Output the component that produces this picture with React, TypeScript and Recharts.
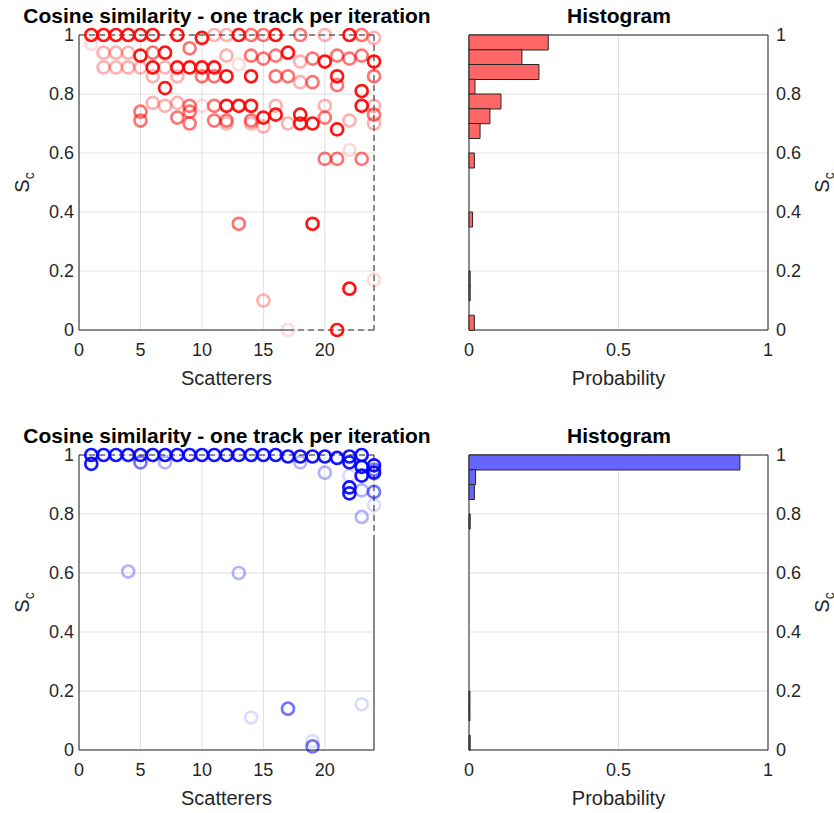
import {
  Bar,
  BarChart,
  CartesianGrid,
  Label,
  ReferenceLine,
  Scatter,
  ScatterChart,
  XAxis,
  YAxis,
} from "recharts"

type Pt = [number, number]

const FONT = "'Liberation Sans', Arial, Helvetica, sans-serif"
const AXIS = "#262626"
const GRID = "#dfdfdf"

const scattererTicks = [0, 5, 10, 15, 20]
const scTicks = [0, 0.2, 0.4, 0.6, 0.8, 1]
const probabilityTicks = [0, 0.5, 1]

// histogram bins of width 0.05, top bin first
const binCentres = [
  0.975, 0.925, 0.875, 0.825, 0.775, 0.725, 0.675, 0.625, 0.575, 0.525,
  0.475, 0.425, 0.375, 0.325, 0.275, 0.225, 0.175, 0.125, 0.075, 0.025,
]
const redProbability = [
  0.265, 0.177, 0.234, 0.02, 0.107, 0.07, 0.037, 0, 0.018, 0,
  0, 0, 0.012, 0, 0, 0, 0.004, 0.004, 0, 0.018,
]
const blueProbability = [
  0.906, 0.022, 0.018, 0, 0.004, 0, 0, 0, 0, 0,
  0, 0, 0, 0, 0, 0, 0.003, 0.003, 0, 0.004,
]

// [scatterer, S_c] per track, strongest first
const redTrackA: Pt[] = [
  [1, 1], [2, 1], [3, 1], [4, 1], [5, 1], [6, 1], [8, 1], [10, 0.99], [13, 1], [16, 1], [22, 1],
  [5, 0.93], [7, 0.94], [17, 0.94], [20, 0.91], [24, 0.91],
  [6, 0.89], [8, 0.89], [9, 0.89], [10, 0.89], [11, 0.89],
  [12, 0.86], [14, 0.86], [21, 0.86], [7, 0.82], [23, 0.81],
  [12, 0.76], [13, 0.76], [14, 0.76], [23, 0.76],
  [15, 0.72], [16, 0.73], [18, 0.73], [18, 0.7], [19, 0.7], [21, 0.68],
  [19, 0.36], [22, 0.14], [21, 0],
]
const redTrackB: Pt[] = [
  [14, 1], [15, 1], [18, 1], [23, 1],
  [9, 0.955], [6, 0.94], [14, 0.93], [15, 0.92], [16, 0.93], [19, 0.92], [21, 0.93], [22, 0.92], [23, 0.93],
  [10, 0.86], [11, 0.86], [16, 0.86], [17, 0.86], [19, 0.84], [21, 0.83], [24, 0.86],
  [9, 0.76], [11, 0.76], [5, 0.74], [9, 0.74],
  [5, 0.71], [8, 0.72], [9, 0.7], [11, 0.71], [12, 0.71], [14, 0.71], [20, 0.72], [24, 0.73],
  [20, 0.58], [21, 0.58], [23, 0.58], [13, 0.36],
]
const redTrackC: Pt[] = [
  [11, 1], [12, 1], [20, 1], [24, 0.99],
  [2, 0.94], [3, 0.94], [4, 0.94], [12, 0.93], [18, 0.91],
  [2, 0.89], [3, 0.89], [4, 0.89], [5, 0.89], [7, 0.89],
  [6, 0.86], [8, 0.86], [18, 0.84],
  [6, 0.77], [7, 0.76], [8, 0.77], [16, 0.76], [20, 0.76], [24, 0.76],
  [12, 0.7], [14, 0.7], [15, 0.69], [17, 0.7], [22, 0.71], [24, 0.7],
  [15, 0.1],
]
const redTrackD: Pt[] = [[1, 0.97], [13, 0.9], [10, 0.76], [22, 0.61], [24, 0.17], [17, 0]]

const blueTrackA: Pt[] = [
  [1, 1], [2, 1], [3, 1], [4, 1], [5, 1], [6, 1], [7, 1], [8, 1], [9, 1], [10, 1], [11, 1], [12, 1],
  [13, 1], [14, 1], [15, 1], [16, 1], [17, 0.995], [18, 0.995], [19, 0.995], [20, 0.995], [21, 0.99],
  [22, 0.995], [23, 1],
  [1, 0.97], [22, 0.975], [23, 0.96], [23, 0.93], [24, 0.965], [24, 0.94], [22, 0.89], [22, 0.87],
]
const blueTrackB: Pt[] = [[5, 0.975], [24, 0.95], [24, 0.875], [17, 0.14], [19, 0.012]]
const blueTrackC: Pt[] = [[7, 0.975], [18, 0.975], [20, 0.94], [23, 0.88], [23, 0.79], [4, 0.605], [13, 0.6]]
const blueTrackD: Pt[] = [[22, 0.93], [24, 0.83], [14, 0.11], [23, 0.155], [19, 0.03]]

const trackOpacity = [0.92, 0.55, 0.3, 0.14]

const tickStyle = { fontSize: 18, fill: AXIS, fontFamily: FONT }

function ring(color: string, opacity: number) {
  return (props: any) => (
    <circle
      cx={props.cx}
      cy={props.cy}
      r={6}
      fill="none"
      stroke={color}
      strokeOpacity={opacity}
      strokeWidth={2.7}
    />
  )
}

const noMark = () => <g />

// rotated "S_c" axis title; offset is the baseline position inside the axis box
function scLabel(offset: number) {
  return (props: any) => {
    const { x, y, height } = props.viewBox
    const bx = x + offset
    const cy = y + height / 2
    return (
      <text
        x={bx}
        y={cy}
        transform={`rotate(-90 ${bx} ${cy})`}
        textAnchor="middle"
        fontSize={20}
        fontFamily={FONT}
        fill={AXIS}
      >
        S
        <tspan fontSize={14} dy={5}>
          c
        </tspan>
      </text>
    )
  }
}

function Title({ text, cx, top }: { text: string; cx: number; top: number }) {
  return (
    <div
      style={{
        position: "absolute",
        left: cx,
        top,
        transform: "translateX(-50%)",
        whiteSpace: "nowrap",
        fontFamily: FONT,
        fontWeight: "bold",
        fontSize: 21,
        lineHeight: "21px",
        color: "#000",
      }}
    >
      {text}
    </div>
  )
}

type ScatterPanelProps = {
  top: number
  color: string
  tracks: Pt[][]
  solidBottomTo: number // bottom edge turns dashed after this scatterer
  dashedRightTo: number // right edge is dashed from 1 down to this S_c
}

function ScatterPanel({ top, color, tracks, solidBottomTo, dashedRightTo }: ScatterPanelProps) {
  const dash = "6 4"
  return (
    <div style={{ position: "absolute", left: 0, top }}>
      <ScatterChart width={420} height={400} margin={{ top: 35, right: 46, bottom: 0, left: 0 }}>
        <CartesianGrid stroke={GRID} />
        <XAxis
          type="number"
          dataKey="x"
          domain={[0, 24]}
          ticks={scattererTicks}
          axisLine={false}
          tickLine={false}
          tickMargin={7}
          height={70}
          tick={tickStyle}
        >
          <Label value="Scatterers" position="insideBottom" offset={15} fontSize={20} fontFamily={FONT} fill={AXIS} />
        </XAxis>
        <YAxis
          type="number"
          dataKey="y"
          domain={[0, 1]}
          ticks={scTicks}
          width={79}
          axisLine={{ stroke: AXIS }}
          tickLine={false}
          tickSize={3}
          tickMargin={2}
          tick={tickStyle}
        >
          <Label content={scLabel(29)} />
        </YAxis>
        <ReferenceLine segment={[{ x: 0, y: 0 }, { x: solidBottomTo, y: 0 }]} stroke={AXIS} />
        {solidBottomTo < 24 && (
          <ReferenceLine segment={[{ x: solidBottomTo, y: 0 }, { x: 24, y: 0 }]} stroke={AXIS} strokeDasharray={dash} />
        )}
        <ReferenceLine y={1} stroke={AXIS} strokeDasharray={dash} />
        <ReferenceLine segment={[{ x: 24, y: 1 }, { x: 24, y: dashedRightTo }]} stroke={AXIS} strokeDasharray={dash} />
        {dashedRightTo > 0 && (
          <ReferenceLine segment={[{ x: 24, y: dashedRightTo }, { x: 24, y: 0 }]} stroke={AXIS} />
        )}
        {tracks.map((track, i) => (
          <Scatter
            key={i}
            data={track.map(([x, y]) => ({ x, y }))}
            shape={ring(color, trackOpacity[i])}
            isAnimationActive={false}
          />
        ))}
      </ScatterChart>
    </div>
  )
}

// the frame (grid, probability axis, S_c axis on the right) and the bars are two
// stacked charts sharing one plot area, so the S_c axis can stay numeric
function HistogramPanel({ top, fill, probabilities }: { top: number; fill: string; probabilities: number[] }) {
  const data = binCentres.map((bin, i) => ({ bin, p: probabilities[i] }))
  return (
    <div style={{ position: "absolute", left: 420, top, width: 414, height: 400 }}>
      <div style={{ position: "absolute", left: 0, top: 0 }}>
        <ScatterChart width={414} height={400} margin={{ top: 35, right: 0, bottom: 0, left: 49 }}>
          <CartesianGrid stroke={GRID} />
          <XAxis
            type="number"
            dataKey="p"
            domain={[0, 1]}
            ticks={probabilityTicks}
            allowDataOverflow
            axisLine={{ stroke: AXIS }}
            tickLine={false}
            tickMargin={7}
            height={70}
            tick={tickStyle}
          >
            <Label value="Probability" position="insideBottom" offset={15} fontSize={20} fontFamily={FONT} fill={AXIS} />
          </XAxis>
          <YAxis
            type="number"
            dataKey="bin"
            domain={[0, 1]}
            ticks={scTicks}
            allowDataOverflow
            orientation="right"
            width={66}
            axisLine={{ stroke: AXIS }}
            tickLine={false}
            tick={tickStyle}
          >
            <Label content={scLabel(61)} />
          </YAxis>
          <ReferenceLine x={0} stroke={AXIS} />
          <ReferenceLine y={1} stroke={AXIS} />
          <Scatter data={data} shape={noMark} isAnimationActive={false} />
        </ScatterChart>
      </div>
      <div style={{ position: "absolute", left: 0, top: 0 }}>
        <BarChart
          layout="vertical"
          width={414}
          height={400}
          data={data}
          barCategoryGap={0}
          margin={{ top: 35, right: 66, bottom: 70, left: 49 }}
        >
          <XAxis type="number" domain={[0, 1]} hide />
          <YAxis type="category" dataKey="bin" hide />
          <Bar dataKey="p" fill={fill} stroke={AXIS} strokeWidth={1} isAnimationActive={false} />
        </BarChart>
      </div>
    </div>
  )
}

export default function App() {
  const title = "Cosine similarity - one track per iteration"
  return (
    <div
      style={{
        position: "absolute",
        left: 0,
        top: 0,
        width: 834,
        height: 813,
        background: "#fff",
        overflow: "hidden",
      }}
    >
      <ScatterPanel
        top={0}
        color="#ff0000"
        tracks={[redTrackA, redTrackB, redTrackC, redTrackD]}
        solidBottomTo={17}
        dashedRightTo={0}
      />
      <HistogramPanel top={0} fill="#ff6666" probabilities={redProbability} />
      <ScatterPanel
        top={420}
        color="#0000ff"
        tracks={[blueTrackA, blueTrackB, blueTrackC, blueTrackD]}
        solidBottomTo={24}
        dashedRightTo={0.72}
      />
      <HistogramPanel top={420} fill="#6666ff" probabilities={blueProbability} />
      <Title text={title} cx={227} top={5} />
      <Title text="Histogram" cx={619} top={5} />
      <Title text={title} cx={227} top={425} />
      <Title text="Histogram" cx={619} top={425} />
    </div>
  )
}
